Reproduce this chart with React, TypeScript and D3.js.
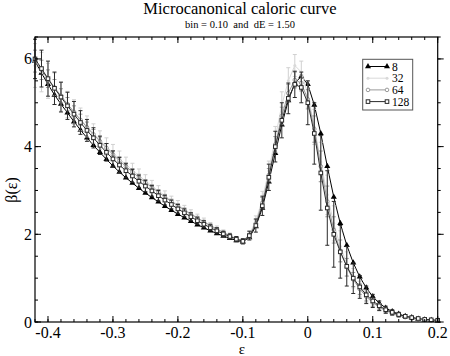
import * as d3 from 'd3'

const W = 450
const H = 356

// energy grid (ε)
const eps = [
  -0.42, -0.41, -0.4, -0.39, -0.38, -0.37, -0.36, -0.35, -0.34, -0.33, -0.32, -0.31, -0.3,
  -0.29, -0.28, -0.27, -0.26, -0.25, -0.24, -0.23, -0.22, -0.21, -0.2, -0.19, -0.18, -0.17,
  -0.16, -0.15, -0.14, -0.13, -0.12, -0.11, -0.1, -0.09, -0.08, -0.07, -0.06, -0.05, -0.04,
  -0.03, -0.02, -0.01, 0, 0.01, 0.02, 0.03, 0.04, 0.05, 0.06, 0.07, 0.08, 0.09, 0.1, 0.11,
  0.12, 0.13, 0.14, 0.15, 0.16, 0.17, 0.18, 0.19, 0.2,
]

const beta8 = [
  5.95, 5.68, 5.42, 5.18, 4.97, 4.77, 4.57, 4.38, 4.2, 4.03, 3.87, 3.71, 3.56,
  3.42, 3.29, 3.17, 3.05, 2.94, 2.84, 2.74, 2.64, 2.55, 2.46, 2.38, 2.3, 2.22,
  2.15, 2.08, 2.02, 1.96, 1.91, 1.86, 1.83, 1.93, 2.18, 2.6, 3.2, 3.85, 4.5,
  5.05, 5.45, 5.6, 5.42, 4.95, 4.3, 3.55, 2.85, 2.25, 1.75, 1.35, 1.03, 0.78, 0.58, 0.43,
  0.32, 0.24, 0.18, 0.13, 0.1, 0.07, 0.05, 0.04, 0.03,
]

const beta32 = [
  5.85, 5.7, 5.5, 5.32, 5.14, 4.96, 4.79, 4.62, 4.46, 4.3, 4.15, 4.0, 3.86,
  3.72, 3.59, 3.46, 3.34, 3.22, 3.1, 2.99, 2.88, 2.77, 2.67, 2.57, 2.47, 2.38,
  2.29, 2.2, 2.12, 2.04, 1.97, 1.9, 1.85, 2.0, 2.3, 2.8, 3.45, 4.2, 4.95,
  5.5, 5.85, 5.7, 5.2, 4.45, 3.65, 2.9, 2.25, 1.73, 1.32, 1.0, 0.76, 0.58, 0.44, 0.34,
  0.26, 0.2, 0.15, 0.11, 0.08, 0.06, 0.05, 0.04, 0.03,
]

const beta64 = [
  5.95, 5.75, 5.55, 5.35, 5.16, 4.97, 4.79, 4.61, 4.44, 4.28, 4.12, 3.97, 3.82,
  3.68, 3.55, 3.42, 3.3, 3.18, 3.07, 2.96, 2.85, 2.75, 2.65, 2.55, 2.46, 2.37,
  2.28, 2.2, 2.12, 2.04, 1.97, 1.9, 1.85, 1.97, 2.25, 2.72, 3.35, 4.05, 4.7,
  5.22, 5.52, 5.45, 5.08, 4.4, 3.55, 2.75, 2.1, 1.62, 1.25, 0.97, 0.75, 0.58, 0.44, 0.34,
  0.26, 0.2, 0.15, 0.11, 0.08, 0.06, 0.05, 0.04, 0.03,
]

const beta128 = [
  6.0, 5.78, 5.55, 5.33, 5.13, 4.93, 4.74, 4.55, 4.37, 4.2, 4.03, 3.87, 3.72,
  3.58, 3.45, 3.33, 3.21, 3.1, 2.99, 2.88, 2.78, 2.68, 2.58, 2.49, 2.4, 2.31,
  2.23, 2.15, 2.08, 2.01, 1.95, 1.89, 1.84, 1.97, 2.2, 2.65, 3.3, 4.0, 4.6,
  5.1, 5.42, 5.35, 5.0, 4.3, 3.4, 2.6, 2.0, 1.6, 1.27, 1.0, 0.8, 0.62, 0.48, 0.37,
  0.28, 0.22, 0.17, 0.13, 0.1, 0.08, 0.06, 0.05, 0.04,
]

// error bars
const err32 = [
  0.5, 0.45, 0.4, 0.36, 0.33, 0.3, 0.28, 0.26, 0.24, 0.22, 0.21, 0.2, 0.19,
  0.18, 0.17, 0.16, 0.15, 0.14, 0.13, 0.12, 0.11, 0.1, 0.1, 0.09, 0.09, 0.08,
  0.08, 0.07, 0.07, 0.06, 0.06, 0.05, 0.05, 0.08, 0.12, 0.18, 0.22, 0.26, 0.3,
  0.3, 0.25, 0.25, 0.3, 0.4, 0.45, 0.45, 0.4, 0.35, 0.28, 0.22, 0.17, 0.13, 0.1, 0.08,
  0.06, 0.05, 0.04, 0.03, 0.02, 0.02, 0.01, 0.01, 0.01,
]

const err64 = [
  0.25, 0.22, 0.2, 0.18, 0.16, 0.15, 0.14, 0.13, 0.12, 0.11, 0.1, 0.1, 0.09,
  0.09, 0.08, 0.08, 0.07, 0.07, 0.06, 0.06, 0.06, 0.05, 0.05, 0.05, 0.04, 0.04,
  0.04, 0.04, 0.03, 0.03, 0.03, 0.03, 0.03, 0.05, 0.08, 0.12, 0.15, 0.18, 0.2,
  0.2, 0.18, 0.18, 0.22, 0.3, 0.35, 0.35, 0.3, 0.25, 0.2, 0.16, 0.12, 0.1, 0.08, 0.06,
  0.05, 0.04, 0.03, 0.02, 0.02, 0.01, 0.01, 0.01, 0.01,
]

const err128 = [
  0.45, 0.42, 0.4, 0.37, 0.34, 0.31, 0.29, 0.27, 0.25, 0.23, 0.21, 0.2, 0.18,
  0.17, 0.16, 0.15, 0.14, 0.13, 0.12, 0.12, 0.11, 0.1, 0.1, 0.09, 0.09, 0.08,
  0.08, 0.07, 0.07, 0.06, 0.06, 0.06, 0.06, 0.1, 0.15, 0.22, 0.3, 0.35, 0.4,
  0.35, 0.3, 0.35, 0.5, 0.7, 0.85, 0.85, 0.75, 0.6, 0.45, 0.35, 0.26, 0.2, 0.15, 0.11,
  0.08, 0.06, 0.05, 0.04, 0.03, 0.02, 0.02, 0.01, 0.01,
]

const legendLabels = ['8', '32', '64', '128']
const xTicks = [-0.4, -0.3, -0.2, -0.1, 0, 0.1, 0.2]
const yTicks = [0, 2, 4, 6]

const SERIF = 'Liberation Serif, Times New Roman, Times, DejaVu Serif, serif'

type Series = {
  name: string
  values: number[]
  err: number[] | null
  color: string
  errColor: string
  marker: 'triangle' | 'dot' | 'circle' | 'square'
}

const series: Series[] = [
  { name: legendLabels[0], values: beta8, err: null, color: '#000', errColor: '#000', marker: 'triangle' },
  { name: legendLabels[1], values: beta32, err: err32, color: '#d9d9d9', errColor: '#d0d0d0', marker: 'dot' },
  { name: legendLabels[2], values: beta64, err: err64, color: '#9a9a9a', errColor: '#9a9a9a', marker: 'circle' },
  { name: legendLabels[3], values: beta128, err: err128, color: '#2a2a2a', errColor: '#2a2a2a', marker: 'square' },
]

function Marker({ kind, x, y, color }: { kind: Series['marker']; x: number; y: number; color: string }) {
  if (kind === 'triangle') {
    const s = d3.symbol(d3.symbolTriangle, 16)()
    return <path d={s || ''} transform={`translate(${x},${y})`} fill={color} />
  }
  if (kind === 'dot') return <circle cx={x} cy={y} r={1.5} fill={color} />
  if (kind === 'circle') return <circle cx={x} cy={y} r={1.8} fill="#fff" stroke={color} strokeWidth={1} />
  return <rect x={x - 1.8} y={y - 1.8} width={3.6} height={3.6} fill="#fff" stroke={color} strokeWidth={1} />
}

export default function App() {
  const m = { left: 35, right: 12.3, top: 37, bottom: 34 }
  const x = d3.scaleLinear().domain([-0.42, 0.2]).range([m.left, W - m.right])
  const y = d3.scaleLinear().domain([0, 6.5]).range([H - m.bottom, m.top])
  const [x0, x1] = x.range()
  const [yb, yt] = y.range()

  const line = d3.line<number>()
    .x((_, i) => x(eps[i]))
    .y(d => y(d))

  const xMinor = d3.range(-0.42, 0.2001, 0.02).filter(v => v > -0.4201)
  const yMinor = d3.range(0, 6.51, 0.5)

  return (
    <svg width={W} height={H} fontFamily={SERIF} style={{ position: 'absolute', left: 0, top: 0, background: '#fff' }}>
      <text x={240} y={14} textAnchor="middle" fontFamily={SERIF} fontSize={16.5}>Microcanonical caloric curve</text>
      <text x={240} y={28} textAnchor="middle" fontFamily={SERIF} fontSize={10.5} style={{ whiteSpace: 'pre' }}>
        bin = 0.10  and  dE = 1.50
      </text>

      {/* data */}
      {series.map(s => (
        <g key={s.name}>
          {s.err && s.values.map((v, i) => {
            const e = s.err![i]
            const cx = x(eps[i])
            return (
              <g key={i} stroke={s.errColor} strokeWidth={1}>
                <line x1={cx} x2={cx} y1={y(v - e)} y2={y(v + e)} />
                <line x1={cx - 2} x2={cx + 2} y1={y(v + e)} y2={y(v + e)} />
                <line x1={cx - 2} x2={cx + 2} y1={y(Math.max(0, v - e))} y2={y(Math.max(0, v - e))} />
              </g>
            )
          })}
          <path d={line(s.values) || ''} fill="none" stroke={s.color} strokeWidth={1} />
          {s.values.map((v, i) => (
            <Marker key={i} kind={s.marker} x={x(eps[i])} y={y(v)} color={s.color} />
          ))}
        </g>
      ))}

      {/* frame */}
      <rect x={x0} y={yt} width={x1 - x0} height={yb - yt} fill="none" stroke="#000" strokeWidth={1.2} />

      {/* x ticks bottom & top */}
      {xMinor.map((v, i) => (
        <g key={'xm' + i} stroke="#000" strokeWidth={1}>
          <line x1={x(v)} x2={x(v)} y1={yb} y2={yb - 3} />
          <line x1={x(v)} x2={x(v)} y1={yt} y2={yt + 3} />
        </g>
      ))}
      {xTicks.map(v => (
        <g key={'xt' + v}>
          <line x1={x(v)} x2={x(v)} y1={yb} y2={yb - 6} stroke="#000" />
          <line x1={x(v)} x2={x(v)} y1={yt} y2={yt + 6} stroke="#000" />
          <text x={x(v)} y={yb + 16} textAnchor="middle" fontFamily={SERIF} fontSize={16}>
            {v === 0 ? '0' : d3.format('.1f')(v).replace('−', '-')}
          </text>
        </g>
      ))}

      {/* y ticks left & right */}
      {yMinor.map((v, i) => (
        <g key={'ym' + i} stroke="#000" strokeWidth={1}>
          <line x1={x0} x2={x0 + 3} y1={y(v)} y2={y(v)} />
          <line x1={x1} x2={x1 + 3} y1={y(v)} y2={y(v)} />
        </g>
      ))}
      {yTicks.map(v => (
        <g key={'yt' + v}>
          <line x1={x0} x2={x0 + 6} y1={y(v)} y2={y(v)} stroke="#000" />
          <line x1={x1} x2={x1 + 6} y1={y(v)} y2={y(v)} stroke="#000" />
          <text x={x0 - 3} y={y(v) + 5.5} textAnchor="end" fontFamily={SERIF} fontSize={16}>{v}</text>
        </g>
      ))}

      <text x={242} y={354} textAnchor="middle" fontFamily={SERIF} fontSize={15}>ε</text>
      <text transform="translate(17,190) rotate(-90)" textAnchor="middle" fontFamily={SERIF} fontSize={16}>β(ε)</text>

      {/* legend */}
      <rect x={362.7} y={59.3} width={50} height={50.7} fill="#fff" stroke="#555" strokeWidth={1} />
      {series.map((s, i) => {
        const ly = 66.5 + i * 11.7
        return (
          <g key={'lg' + s.name}>
            <line x1={368} x2={387} y1={ly} y2={ly} stroke={s.color} strokeWidth={1} />
            <Marker kind={s.marker} x={368} y={ly} color={s.color} />
            <Marker kind={s.marker} x={387} y={ly} color={s.color} />
            <text x={392} y={ly + 4} fontFamily={SERIF} fontSize={11.5}>{s.name}</text>
          </g>
        )
      })}
    </svg>
  )
}
